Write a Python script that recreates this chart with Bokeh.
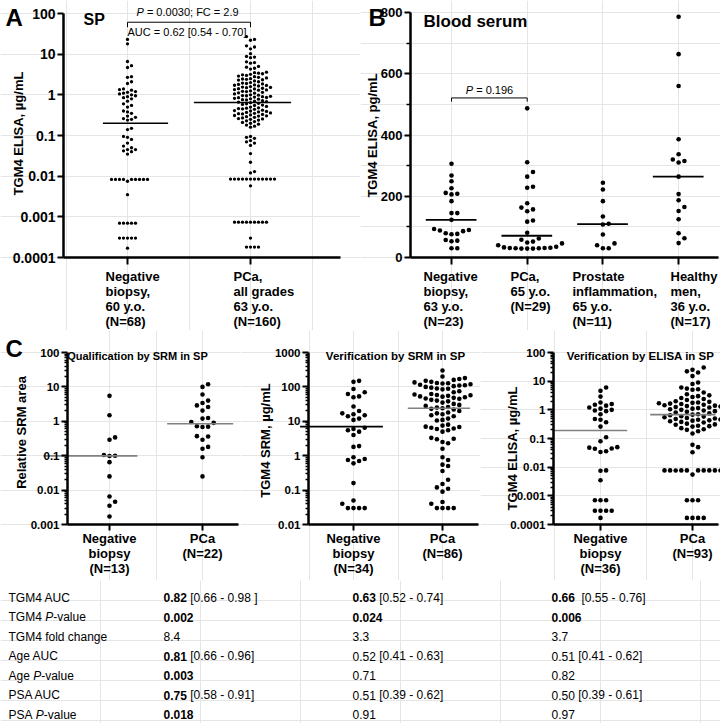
import math
from bokeh.plotting import figure
from bokeh.models import Range1d, FixedTicker, Label, LinearAxis, LogAxis
from bokeh.layouts import column, row
from bokeh.embed import file_html
from bokeh.resources import INLINE
from bokeh.core.properties import value

# ---------------- DATA ----------------
# Panel A: TGM4 ELISA in seminal plasma (ug/mL)
A_categories = ["Negative\nbiopsy,\n60 y.o.\n(N=68)", "PCa,\nall grades\n63 y.o.\n(N=160)"]
A_negative = [23, 18, 6.6, 5.2, 4.7, 2.8, 2.7, 2.1, 1.9, 1.4, 1.35, 1.3, 1.2, 1.15, 1.1, 1.05,
              1.0, 0.95, 0.9, 0.85, 0.8, 0.7, 0.6, 0.55, 0.5, 0.4, 0.38, 0.35, 0.3, 0.28, 0.26,
              0.25, 0.24, 0.15, 0.14, 0.095, 0.09, 0.08, 0.065, 0.055, 0.05, 0.045, 0.045, 0.042,
              0.04, 0.035,
              0.0083, 0.0083, 0.0083, 0.0083, 0.0083, 0.0083, 0.0083, 0.0083, 0.0083, 0.0075,
              0.0035, 0.0007, 0.0007, 0.0007, 0.0007, 0.0007,
              0.0003, 0.0003, 0.0003, 0.0003, 0.0003, 0.00017]
A_pca = [27, 23, 22, 16, 15, 13.5, 10.3, 8.8, 8.5, 8.2, 6.5, 6.2, 6.0, 5.0, 4.8, 4.5, 4.3,
         3.6, 3.5, 3.4, 3.3, 3.2, 3.1, 3.0, 2.9, 2.8, 2.7, 2.6, 2.5, 2.45, 2.4, 2.35, 2.3, 2.2,
         2.1, 2.0, 1.95, 1.9, 1.85, 1.8, 1.75, 1.72, 1.7, 1.65, 1.6, 1.55, 1.52, 1.5, 1.45,
         1.42, 1.4, 1.35, 1.32, 1.3, 1.25, 1.22, 1.2, 1.15, 1.12, 1.1, 1.05, 1.0, 0.98, 0.96,
         0.95, 0.92, 0.9, 0.88, 0.86, 0.85, 0.82, 0.8, 0.78, 0.76, 0.75, 0.72, 0.7, 0.68, 0.66,
         0.64, 0.62, 0.6, 0.58, 0.56, 0.55, 0.52, 0.5, 0.48, 0.47, 0.46, 0.45, 0.44, 0.42,
         0.41, 0.4, 0.39, 0.38, 0.37, 0.36, 0.35, 0.345, 0.34, 0.33, 0.32, 0.31, 0.305, 0.3,
         0.29, 0.28, 0.27, 0.26, 0.255, 0.25, 0.24, 0.23, 0.22, 0.21, 0.2, 0.19, 0.18, 0.17,
         0.16,
         0.095, 0.09, 0.085, 0.075, 0.07, 0.065, 0.057, 0.036, 0.022, 0.013, 0.012,
         0.0085, 0.0085, 0.0085, 0.0085, 0.0085, 0.0085, 0.0085, 0.0085, 0.0085, 0.0085,
         0.0085, 0.0085, 0.0058,
         0.00074, 0.00074, 0.00074, 0.00074, 0.00074, 0.00074, 0.00074, 0.00074, 0.00074,
         0.0003, 0.00018, 0.00018, 0.00018, 0.00018]
A_median = [0.2, 0.65]
A_yticks = [0.0001, 0.001, 0.01, 0.1, 1, 10, 100]
A_ytick_labels = ["0.0001", "0.001", "0.01", "0.1", "1", "10", "100"]

# Panel B: TGM4 ELISA in blood serum (pg/mL)
B_categories = ["Negative\nbiopsy,\n63 y.o.\n(N=23)", "PCa,\n65 y.o.\n(N=29)",
                "Prostate\ninflammation,\n65 y.o.\n(N=11)", "Healthy\nmen,\n36 y.o.\n(N=17)"]
B_negative = [306, 268, 249, 226, 211, 208, 206, 184, 145, 145, 123, 93, 90, 88, 86, 79, 77, 76,
              57, 55, 53, 30, 30]
B_pca = [487, 311, 279, 264, 231, 228, 177, 163, 157, 151, 121, 117, 81, 62, 58, 52, 49, 46, 40,
         35, 33, 32, 31, 31, 30, 30, 29, 29, 29]
B_inflammation = [244, 222, 184, 134, 110, 108, 75, 46, 40, 30, 30]
B_healthy = [786, 664, 560, 386, 337, 320, 315, 310, 264, 207, 187, 165, 152, 125, 79, 63, 47]
B_median = [123, 71, 109, 264]
B_yticks = [0, 200, 400, 600, 800]
B_yminor = [100, 300, 500, 700]

# Panel C
C1_categories = ["Negative\nbiopsy\n(N=13)", "PCa\n(N=22)"]
C1_negative = [5.5, 1.5, 0.34, 0.29, 0.105, 0.1, 0.098, 0.065, 0.025, 0.0065, 0.0046, 0.0035, 0.0017]
C1_pca = [12, 10, 6, 4, 3.4, 2.9, 2.6, 2.05, 1.25, 1.2, 0.95, 0.9, 0.72, 0.7, 0.68, 0.37, 0.36,
          0.29, 0.18, 0.16, 0.09, 0.025]
C1_median = [0.099, 0.85]
C1_yticks = [0.001, 0.01, 0.1, 1, 10, 100]
C1_ytick_labels = ["0.001", "0.01", "0.1", "1", "10", "100"]

C2_categories = ["Negative\nbiopsy\n(N=34)", "PCa\n(N=86)"]
C2_negative = [150, 140, 87, 70, 62, 53, 50, 27, 20, 17, 16, 15, 14, 12, 11, 6.5, 6, 5.5, 5, 4,
               1.9, 1.8, 0.9, 0.8, 0.75, 0.7, 0.6, 0.16, 0.05, 0.04, 0.03, 0.03, 0.03, 0.03]
C2_pca = [300, 200, 180, 170, 160, 150, 140, 135, 130, 128, 125, 120, 115, 112, 110, 105, 100,
          95, 90, 88, 85, 75, 70, 62, 60, 58, 57, 55, 53, 52, 50, 48, 46, 45, 42, 40, 38, 35,
          32, 30, 28, 26, 25, 24, 23, 22, 20, 18, 17, 16, 15, 14, 12, 11, 10.5, 8, 7.5, 7, 6.8,
          6.5, 6.2, 6, 5.5, 5, 3.3, 3.1, 3, 2.5, 2.3, 1.6, 0.9, 0.75, 0.55, 0.5, 0.36, 0.2,
          0.15, 0.12, 0.11, 0.09, 0.045, 0.04, 0.03, 0.03, 0.03, 0.03]
C2_median = [7.0, 24.0]
C2_yticks = [0.01, 0.1, 1, 10, 100, 1000]
C2_ytick_labels = ["0.01", "0.1", "1", "10", "100", "1000"]

C3_categories = ["Negative\nbiopsy\n(N=36)", "PCa\n(N=93)"]
C3_negative = [6, 4.6, 2.9, 1.8, 1.6, 1.5, 1.4, 1.2, 1.1, 1.0, 0.95, 0.9, 0.7, 0.48, 0.45, 0.37,
               0.26, 0.11, 0.08, 0.05, 0.048, 0.045, 0.044, 0.036, 0.034, 0.0077, 0.0075,
               0.0035, 0.0007, 0.0007, 0.0007, 0.0003, 0.0003, 0.0003, 0.0003, 0.00017]
C3_pca = [30, 25, 22, 20, 15, 9, 8, 6, 5.5, 5.2, 5, 4, 3.5, 3.2, 3.0, 2.8, 2.6, 2.4, 2.2, 2.0,
          1.9, 1.85, 1.8, 1.75, 1.7, 1.65, 1.6, 1.55, 1.5, 1.45, 1.4, 1.35, 1.3, 1.25, 1.2,
          1.15, 1.1, 1.05, 1.0, 0.95, 0.9, 0.85, 0.8, 0.75, 0.7, 0.68, 0.65, 0.62, 0.6, 0.58,
          0.55, 0.52, 0.5, 0.48, 0.46, 0.45, 0.43, 0.42, 0.4, 0.38, 0.36, 0.33, 0.31, 0.3, 0.28,
          0.27, 0.26, 0.23, 0.21, 0.2, 0.18, 0.15, 0.06, 0.05, 0.033,
          0.0077, 0.0077, 0.0077, 0.0077, 0.0077, 0.0077, 0.0077, 0.0077, 0.0077, 0.0077,
          0.0055, 0.0007, 0.0007, 0.0007, 0.00017, 0.00017, 0.00017, 0.00017]
C3_median = [0.19, 0.68]
C3_yticks = A_yticks
C3_ytick_labels = A_ytick_labels

# Table below panel C
T_rows = [("TGM4 AUC", "", ""), ("TGM4 ", "P", "-value"), ("TGM4 fold change", "", ""),
          ("Age AUC", "", ""), ("Age ", "P", "-value"), ("PSA AUC", "", ""), ("PSA ", "P", "-value")]
T_col1 = [("0.82", " [0.66 - 0.98 ]", True), ("0.002", "", True), ("8.4", "", False),
          ("0.81", " [0.66 - 0.96]", True), ("0.003", "", True), ("0.75", " [0.58 - 0.91]", True),
          ("0.018", "", True)]
T_col2 = [("0.63", " [0.52 - 0.74]", True), ("0.024", "", True), ("3.3", "", False),
          ("0.52", " [0.41 - 0.63]", False), ("0.71", "", False), ("0.51", " [0.39 - 0.62]", False),
          ("0.91", "", False)]
T_col3 = [("0.66", "  [0.55 - 0.76]", True), ("0.006", "", True), ("3.7", "", False),
          ("0.51", " [0.41 - 0.62]", False), ("0.82", "", False), ("0.50", " [0.39 - 0.61]", False),
          ("0.97", "", False)]

# ---------------- STYLE / HELPERS ----------------
SANS = "Liberation Sans"

REG = {' ': 278, '(': 333, ')': 333, ',': 278, '-': 333, '.': 278, '=': 584, ';': 278, '[': 278,
       ']': 278, '/': 278, 'A': 667, 'C': 722, 'E': 667, 'F': 611, 'G': 778, 'M': 833, 'P': 667,
       'S': 667, 'T': 611, 'U': 722, 'L': 556, 'I': 278, 'a': 556, 'c': 500, 'd': 556, 'e': 556,
       'f': 278, 'g': 556, 'h': 556, 'i': 222, 'l': 222, 'n': 556, 'o': 556, 'u': 556, 'v': 500}
BOLD = {' ': 278, '(': 333, ')': 333, ',': 278, '-': 333, '.': 278, '=': 584, ';': 333, '[': 333,
        ']': 333, '/': 278}


def text_w(s, size, bold=False):
    tab = BOLD if bold else REG
    return sum(tab.get(ch, 556) for ch in s) * size / 1000.0


def swarm(vals, py_fn, d):
    order = sorted(range(len(vals)), key=lambda i: vals[i])
    placed = []
    xs = [0.0] * len(vals)
    cands = [0.0]
    for j in range(1, 80):
        cands += [j * d, -j * d]
    for idx in order:
        py = py_fn(vals[idx])
        near = [(qx, qy) for qx, qy in placed if abs(py - qy) < d]
        cx = 0.0
        for cx in cands:
            if all((cx - qx) ** 2 + (py - qy) ** 2 >= (0.98 * d) ** 2 for qx, qy in near):
                break
        placed.append((cx, py))
        xs[idx] = cx
    return xs


class Panel:
    """A figure whose frame is its whole canvas; axes sit at fixed data locations."""

    def __init__(self, fx, fy, w, h, tick0, ppu, yax_x, xax_end, ytop, ybot, lo, hi, log):
        self.fx, self.fy, self.w, self.h = fx, fy, w, h
        self.tick0, self.ppu = tick0, ppu
        xr = ((fx - tick0) / ppu, (fx + w - tick0) / ppu)
        if log:
            ppd = (ybot - ytop) / (math.log10(hi) - math.log10(lo))
            top = 10 ** (math.log10(hi) + (ytop - fy) / ppd)
            bot = 10 ** (math.log10(lo) - (fy + h - ybot) / ppd)
            self.py = lambda v: (math.log10(v) - math.log10(lo)) * ppd
        else:
            ppd = (ybot - ytop) / float(hi - lo)
            top = hi + (ytop - fy) / ppd
            bot = lo - (fy + h - ybot) / ppd
            self.py = lambda v: (v - lo) * ppd
        p = figure(width=w, height=h, x_range=Range1d(*xr), y_range=Range1d(bot, top),
                   y_axis_type="log" if log else "linear", x_axis_location=None,
                   y_axis_location=None, output_backend="svg", toolbar_location=None,
                   title=None, min_border=0)
        p.outline_line_color = None
        p.background_fill_color = "white"
        p.border_fill_color = "white"
        ya = (LogAxis if log else LinearAxis)(fixed_location=self.xd(yax_x), bounds=(lo, hi))
        xa = LinearAxis(fixed_location=lo, bounds=(self.xd(yax_x), self.xd(xax_end)))
        for ax in (ya, xa):
            ax.axis_line_width = 2.5
            ax.axis_line_color = "black"
            ax.major_tick_line_width = 2
            ax.major_tick_line_color = "black"
            ax.major_tick_out = 6
            ax.major_tick_in = 0
            ax.minor_tick_line_color = None
            ax.major_label_text_color = "black"
            ax.major_label_standoff = 2
            ax.major_label_text_font = SANS
            ax.major_label_text_font_style = "bold"
        xa.major_tick_out = 7
        p.add_layout(ya, "left")
        p.add_layout(xa, "below")
        self.p, self.ya, self.xa = p, ya, xa

    def xd(self, X):
        return (X - self.tick0) / self.ppu

    def style_y(self, ticks, labels, minor, size):
        self.ya.ticker = FixedTicker(ticks=ticks, minor_ticks=minor)
        self.ya.major_label_overrides = {t: l for t, l in zip(ticks, labels)}
        self.ya.major_label_text_font_size = size
        if minor:
            self.ya.minor_tick_line_color = "black"
            self.ya.minor_tick_line_width = 1.3
            self.ya.minor_tick_out = 3
            self.ya.minor_tick_in = 0

    def style_x(self, n, labels=None, size="13px"):
        self.xa.ticker = FixedTicker(ticks=list(range(n)))
        if labels is None:
            self.xa.major_label_overrides = {i: "" for i in range(n)}
        else:
            self.xa.major_label_overrides = {i: l for i, l in enumerate(labels)}
            self.xa.major_label_text_font_size = size
            self.xa.major_label_text_line_height = 1.0
            self.xa.major_tick_out = 6
            self.xa.major_label_standoff = 0

    def label(self, text, X, Y, size, style="normal", align="left", baseline="alphabetic",
              angle=0.0, lh=1.2):
        self.p.add_layout(Label(x=X - self.fx, y=self.fy + self.h - Y, x_units="screen",
                                y_units="screen", text=text, text_font=SANS,
                                text_font_size=size, text_font_style=style, text_align=align,
                                text_baseline=baseline, angle=angle, text_color="black",
                                text_line_height=lh))

    def groups(self, groups, d, size):
        for i, vals in enumerate(groups):
            offs = swarm(vals, self.py, d)
            self.p.scatter(x=[i + o / self.ppu for o in offs], y=vals, size=size,
                           color="black", line_width=0)

    def medians(self, meds, extents, colors, width=1.6):
        for i, m in enumerate(meds):
            lo_off, hi_off = extents[i]
            self.p.segment(x0=[i + lo_off], x1=[i + hi_off], y0=[m], y1=[m],
                           line_color=colors[i], line_width=width)

    def bracket(self, i0, i1, y_top, y_end):
        self.p.line(x=[i0, i0, i1, i1], y=[y_end, y_top, y_top, y_end], line_color="black",
                    line_width=1)


def minor_log(lo_exp, hi_exp):
    return [k * 10.0 ** e for e in range(lo_exp, hi_exp) for k in range(2, 10)]


# ---------------- PANEL A ----------------
A = Panel(0, 0, 360, 330, tick0=127, ppu=123.0, yax_x=63, xax_end=340, ytop=13, ybot=257,
          lo=1e-4, hi=100, log=True)
A.style_y(A_yticks, A_ytick_labels, [], "14px")
A.style_x(2)
A.groups([A_negative, A_pca], 4.0, 3.3)
A.medians(A_median, [(-0.2, 0.33), (-0.46, 0.33)], ["black", "black"], 1.6)
A.bracket(0, 1, 61, 46)
A.label("A", 5, 17, "24px", "bold")
A.label("SP", 83, 19, "16px", "bold")
A.label("TGM4 ELISA, \u00b5g/mL", 17.5, 133, "13px", "bold", align="center", baseline="middle",
        angle=math.pi / 2)
A.label("P", 136, 11, "11px", "italic")
A.label("= 0.0030; FC = 2.9", 136 + text_w("P ", 11), 11, "11px")
A.label("AUC = 0.62 [0.54 - 0.70]", 127, 31, "11px")
for lab, X in zip(A_categories, [105, 233]):
    A.label(lab, X, 268, "13px", "bold", baseline="top", lh=1.0)

# ---------------- PANEL B ----------------
B = Panel(360, 0, 360, 330, tick0=451, ppu=75.7, yax_x=410, xax_end=718, ytop=12, ybot=257,
          lo=0, hi=800, log=False)
B.style_y(B_yticks, [str(t) for t in B_yticks], B_yminor, "13px")
B.ya.minor_tick_out = 4
B.style_x(4)
B.groups([B_negative, B_pca, B_inflammation, B_healthy], 5.8, 4.6)
B.medians(B_median, [(-0.34, 0.33)] * 4, ["black"] * 4, 1.8)
B.bracket(0, 1, 521, 509)
B.label("B", 368, 17, "24px", "bold")
B.label("Blood serum", 423, 21, "17px", "bold")
B.label("TGM4 ELISA, pg/mL", 372, 135, "13px", "bold", align="center", baseline="middle",
        angle=math.pi / 2)
pw = text_w("P = 0.196", 11)
B.label("P", 489 - pw / 2, 89, "11px", "italic")
B.label("= 0.196", 489 - pw / 2 + text_w("P ", 11), 89, "11px")
for lab, X in zip(B_categories, [423, 510, 572, 670]):
    B.label(lab, X, 268, "13px", "bold", baseline="top", lh=1.0)

# ---------------- PANEL C ----------------


def panel_c(fx, tick0, ppu, yax_x, xax_end, lo, hi, ticks, labels, cats, groups, meds, ext,
            mcolors, title, title_x, title_size, ylab, ylab_x, ylab_y):
    P = Panel(fx, 330, 240, 250, tick0=tick0, ppu=ppu, yax_x=yax_x, xax_end=xax_end, ytop=352,
              ybot=524, lo=lo, hi=hi, log=True)
    P.style_y(ticks, labels, minor_log(round(math.log10(lo)), round(math.log10(hi))), "11.5px")
    P.style_x(2, cats, "13px")
    P.groups(groups, 5.6, 4.6)
    P.medians(meds, ext, mcolors, 1.6)
    P.label(title, title_x, 355, title_size, "bold", align="center")
    P.label(ylab, ylab_x, ylab_y, "13px", "bold", align="center", baseline="middle",
            angle=math.pi / 2)
    return P


C1 = panel_c(0, 109, 93.0, 67, 238, 1e-3, 100, C1_yticks, C1_ytick_labels, C1_categories,
             [C1_negative, C1_pca], C1_median, [(-0.71, 0.30), (-0.38, 0.33)],
             ["#808080", "#808080"], "Qualification by SRM in SP", 137, "11px",
             "Relative SRM area", 21, 432)
C1.label("C", 5, 348, "24px", "bold")
C2 = panel_c(240, 353, 89.0, 308, 478, 1e-2, 1000, C2_yticks, C2_ytick_labels, C2_categories,
             [C2_negative, C2_pca], C2_median, [(-0.6, 0.33), (-0.39, 0.31)],
             ["black", "#808080"], "Verification by SRM in SP", 395, "11.5px",
             "TGM4 SRM, \u00b5g/mL", 265, 440)
C3 = panel_c(480, 600, 92.0, 553, 718, 1e-4, 100, C3_yticks, C3_ytick_labels, C3_categories,
             [C3_negative, C3_pca], C3_median, [(-0.52, 0.29), (-0.46, 0.25)],
             ["#808080", "#808080"], "Verification by ELISA in SP", 640, "11.5px",
             "TGM4 ELISA, \u00b5g/mL", 512, 448)

# ---------------- TABLE ----------------
pT = figure(width=720, height=143, x_range=Range1d(0, 720), y_range=Range1d(723, 580),
            output_backend="svg", toolbar_location=None, title=None,
            x_axis_location=None, y_axis_location=None, min_border=0)
pT.outline_line_color = None
FS = 12
row_y = [597 + 19.5 * i for i in range(len(T_rows))]
tkw = dict(text_font=value(SANS), text_font_size="12px", text_baseline="middle",
           text_color="black")
for i, (pre, ital, post) in enumerate(T_rows):
    if ital:
        j1 = 8 + text_w(pre, FS)
        pT.text(x=[j1], y=[row_y[i]], text=[pre], text_align="right", **tkw)
        pT.text(x=[j1], y=[row_y[i]], text=[ital], text_align="left", text_font_style="italic",
                **tkw)
        pT.text(x=[j1 + text_w(ital, FS)], y=[row_y[i]], text=[post], text_align="left", **tkw)
    else:
        pT.text(x=[8], y=[row_y[i]], text=[pre], text_align="left", **tkw)
for cx, col in zip([163, 352, 551], [T_col1, T_col2, T_col3]):
    for i, (main, rest, bold) in enumerate(col):
        j = cx + text_w(main, FS, bold=bold)
        pT.text(x=[j], y=[row_y[i]], text=[main], text_align="right",
                text_font_style="bold" if bold else "normal", **tkw)
        if rest:
            gap = text_w(rest[:len(rest) - len(rest.lstrip())], FS)
            pT.text(x=[j + gap], y=[row_y[i]], text=[rest.lstrip()], text_align="left", **tkw)

layout = column(row(A.p, B.p), row(C1.p, C2.p, C3.p), pT)
open("out.html", "w").write(file_html(layout, INLINE))
